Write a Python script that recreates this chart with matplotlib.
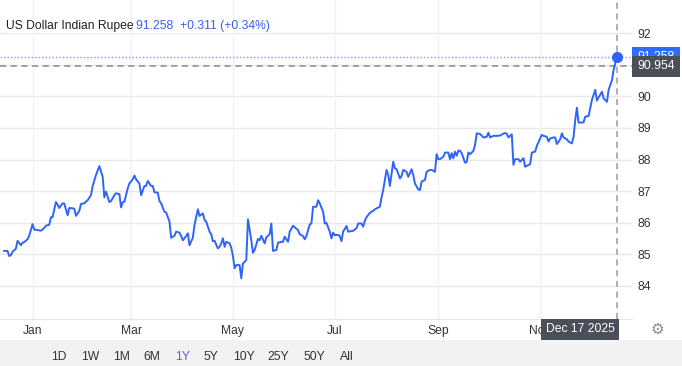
import matplotlib
matplotlib.use("Agg")
import matplotlib.pyplot as plt
import matplotlib.dates as mdates
from matplotlib.patches import Rectangle
import pandas as pd

# ---------------- data ----------------
title_name = "US Dollar Indian Rupee"
title_quote = "91.258  +0.311 (+0.34%)"
last_price = 91.258
crosshair_price = 90.954
crosshair_label = "Dec 17 2025"
range_buttons = ["1D", "1W", "1M", "6M", "1Y", "5Y", "10Y", "25Y", "50Y", "All"]
active_button = "1Y"
y_ticks = [84, 85, 86, 87, 88, 89, 90, 92]

base_date = "2025-01-01"
day_offset = [
    -17, -15, -14, -13, -12, -10, -9, -7, -6, -5, -3, -2, 0, 1, 3, 5, 7, 8, 10, 11,
    12, 14, 15, 16, 18, 19, 21, 22, 23, 25, 26, 28, 29, 31, 32, 33, 35, 36, 38, 40,
    42, 43, 44, 46, 47, 49, 50, 52, 53, 54, 55, 57, 58, 60, 61, 62, 64, 65, 67, 68,
    69, 71, 72, 73, 75, 76, 77, 79, 80, 82, 83, 85, 86, 88, 89, 90, 92, 93, 94, 96,
    97, 99, 100, 102, 103, 104, 106, 107, 108, 109, 111, 112, 113, 114, 115, 116, 118, 119, 120, 121,
    122, 124, 125, 126, 128, 129, 131, 132, 133, 135, 136, 137, 139, 140, 141, 142, 143, 144, 146, 147,
    149, 150, 151, 153, 154, 156, 157, 159, 160, 162, 163, 164, 166, 167, 168, 170, 171, 172, 174, 175,
    176, 178, 179, 180, 181, 183, 184, 185, 186, 188, 189, 191, 192, 194, 195, 197, 198, 199, 200, 202,
    204, 205, 206, 208, 209, 210, 211, 212, 213, 214, 216, 217, 218, 220, 221, 222, 224, 225, 227, 228,
    229, 231, 232, 233, 235, 236, 238, 239, 241, 242, 243, 244, 246, 247, 249, 250, 251, 252, 253, 254,
    255, 256, 257, 259, 260, 261, 262, 264, 265, 266, 267, 268, 270, 272, 273, 274, 276, 277, 278, 280,
    282, 283, 284, 285, 287, 288, 289, 291, 292, 294, 295, 296, 298, 299, 301, 302, 304, 305, 306, 308,
    309, 310, 312, 313, 314, 316, 317, 318, 320, 321, 323, 324, 325, 326, 327, 328, 330, 331, 333, 334,
    335, 337, 338, 339, 341, 342, 344, 345, 347, 348, 349, 350,
]
usd_inr = [
    85.10, 85.10, 84.94, 84.96, 85.07, 85.17, 85.42, 85.28, 85.36, 85.38, 85.47, 85.58, 85.95, 85.78, 85.76, 85.74, 85.83, 85.90, 85.93, 86.17,
    86.17, 86.65, 86.57, 86.46, 86.61, 86.60, 86.23, 86.46, 86.46, 86.44, 86.21, 86.37, 86.59, 86.61, 86.66, 86.71, 86.87, 87.16, 87.51, 87.79,
    87.45, 86.80, 86.98, 86.65, 86.68, 86.87, 86.93, 86.90, 86.48, 86.65, 86.66, 87.09, 87.24, 87.37, 87.49, 87.37, 87.24, 86.87, 87.16, 87.16,
    87.32, 87.16, 87.16, 86.96, 86.95, 86.68, 86.61, 86.34, 86.32, 86.03, 85.52, 85.58, 85.71, 85.68, 85.57, 85.44, 85.57, 85.66, 85.28, 85.52,
    85.92, 86.42, 86.21, 86.29, 86.08, 86.03, 85.71, 85.63, 85.41, 85.42, 85.18, 85.23, 85.34, 85.50, 85.23, 85.39, 85.34, 85.20, 84.94, 84.55,
    84.65, 84.65, 84.23, 84.70, 84.81, 86.10, 85.44, 85.04, 85.13, 85.48, 85.44, 85.58, 85.34, 85.53, 85.58, 85.63, 85.97, 85.10, 85.13, 85.36,
    85.39, 85.39, 85.55, 85.39, 85.71, 85.90, 85.85, 85.76, 85.63, 85.57, 85.47, 85.57, 85.94, 85.97, 86.50, 86.50, 86.71, 86.61, 86.34, 85.97,
    85.99, 85.71, 85.50, 85.68, 85.60, 85.61, 85.57, 85.41, 85.71, 85.89, 85.71, 85.73, 85.74, 85.82, 85.97, 85.97, 85.87, 86.05, 86.17, 86.31,
    86.37, 86.42, 86.45, 86.50, 86.80, 87.03, 87.35, 87.67, 87.51, 87.16, 87.93, 87.72, 87.70, 87.40, 87.48, 87.67, 87.61, 87.45, 87.69, 87.51,
    87.24, 87.05, 87.03, 87.30, 87.35, 87.61, 87.67, 87.67, 87.61, 88.17, 88.01, 88.01, 88.09, 88.22, 88.22, 88.01, 88.20, 88.04, 88.25, 88.12,
    88.28, 88.28, 88.20, 87.90, 87.92, 88.22, 88.17, 88.27, 88.46, 88.83, 88.82, 88.81, 88.70, 88.72, 88.85, 88.70, 88.75, 88.75, 88.75, 88.76,
    88.82, 88.84, 88.82, 88.70, 88.80, 87.83, 88.01, 88.01, 87.93, 88.04, 87.77, 87.80, 87.85, 88.22, 88.25, 88.43, 88.67, 88.78, 88.75, 88.72,
    88.57, 88.67, 88.70, 88.70, 88.49, 88.64, 88.83, 88.70, 88.64, 88.57, 88.51, 88.72, 89.25, 89.64, 89.17, 89.17, 89.18, 89.36, 89.38, 89.63,
    89.89, 90.21, 89.87, 89.97, 90.15, 89.94, 89.83, 90.21, 90.52, 90.84, 91.07, 91.258,
]

# ---------------- figure ----------------
plt.rcParams["font.family"] = ["Liberation Sans", "DejaVu Sans"]
W, H = 682, 366
fig = plt.figure(figsize=(W / 100, H / 100), dpi=100)
fig.patch.set_facecolor("white")

ax_left, ax_right, ax_top, ax_bottom = 0, 632, 0, 319
ax = fig.add_axes([ax_left / W, 1 - ax_bottom / H, (ax_right - ax_left) / W, (ax_bottom - ax_top) / H])

base = pd.Timestamp(base_date)
dates = base + pd.to_timedelta(day_offset, unit="D")
last_date = dates[-1]

line_color = "#2e64fa"
ax.plot(dates, usd_inr, color=line_color, lw=1.4, solid_joinstyle="round", zorder=4)
ax.plot([last_date], [last_price], "o", color=line_color, ms=7, zorder=5)

ax.set_xlim(base + pd.Timedelta(days=-19.5), base + pd.Timedelta(days=359.0))
ax.set_ylim(82.94, 93.06)

# grid
ax.set_yticks(y_ticks)
ax.xaxis.set_major_locator(mdates.MonthLocator(bymonth=[1, 3, 5, 7, 9, 11]))
ax.xaxis.set_major_formatter(mdates.DateFormatter("%b"))
for yv in [84, 85, 86, 87, 88, 89, 90, 91, 92]:
    ax.axhline(yv, color="#e8e8e8", lw=1.0, zorder=1)
ax.grid(axis="x", color="#eef1f5", lw=1.0, zorder=0)

ax.yaxis.tick_right()
ax.tick_params(axis="y", length=0, pad=4, labelsize=8.7, labelcolor="#333333")
ax.tick_params(axis="x", length=0, pad=4, labelsize=8.7, labelcolor="#333333")
for s in ["top", "left", "right"]:
    ax.spines[s].set_visible(False)
ax.spines["bottom"].set_color("#e6e6e6")

# last price dotted line and crosshair
ax.axhline(last_price, color="#7f9bff", lw=1.0, ls=(0, (1, 1.5)), zorder=2)
ax.axhline(crosshair_price, color="#8a8a8a", lw=1.1, ls=(0, (4, 3)), zorder=3)
ax.axvline(last_date, color="#9a9a9a", lw=1.1, ls=(0, (4, 3)), zorder=3)


def fig_y(v):
    return ax.transData.transform((0, v))[1] / (fig.dpi * fig.get_figheight())


# price tags on the right
tag_x0 = 632 / W
tag_w = 48 / W
yb = fig_y(last_price)
fig.add_artist(Rectangle((tag_x0, yb - 9.5 / H), tag_w, 19 / H, transform=fig.transFigure,
                         facecolor="#2f6bff", edgecolor="none", zorder=6))
fig.text(tag_x0 + tag_w / 2, yb, f"{last_price:.3f}", color="white", fontsize=8.7,
         ha="center", va="center", zorder=7)
yc = fig_y(crosshair_price)
fig.add_artist(Rectangle((tag_x0, yc - 10.5 / H), tag_w, 21 / H, transform=fig.transFigure,
                         facecolor="#4a4f59", edgecolor="none", zorder=8))
fig.text(tag_x0 + tag_w / 2, yc, f"{crosshair_price:.3f}", color="white", fontsize=8.7,
         ha="center", va="center", zorder=9)

# date tag at bottom
fig.add_artist(Rectangle((541 / W, 1 - 340 / H), 78 / W, 21 / H, transform=fig.transFigure,
                         facecolor="#4a4f59", edgecolor="none", zorder=8))
fig.text(580 / W, 1 - 329.5 / H, crosshair_label, color="white", fontsize=8.7,
         ha="center", va="center", zorder=9)

# title
fig.text(6 / W, 1 - 26 / H, title_name, color="#222222", fontsize=8.7, ha="left", va="center",
         zorder=9, bbox=dict(facecolor="white", edgecolor="none", pad=1))
fig.text(136 / W, 1 - 26 / H, title_quote, color="#3d5cf5", fontsize=8.7, ha="left", va="center",
         zorder=9, bbox=dict(facecolor="white", edgecolor="none", pad=1))

# bottom button bar
fig.add_artist(Rectangle((0, 0), 1, 26 / H, transform=fig.transFigure,
                         facecolor="#f2f2f2", edgecolor="none", zorder=1))
btn_x = [59, 90, 122, 152, 183, 211, 244, 278, 314, 347]
for label, bx in zip(range_buttons, btn_x):
    fig.text(bx / W, 1 - 357 / H, label, fontsize=8.7, ha="center", va="center",
             color="#5b5bf0" if label == active_button else "#333333", zorder=9)

# settings gear
fig.text(657 / W, 1 - 329 / H, "\u2699", fontsize=11, ha="center", va="center",
         color="#8a8a8a", family="DejaVu Sans", zorder=9)

fig.savefig("out.png", dpi=100, facecolor="white")
